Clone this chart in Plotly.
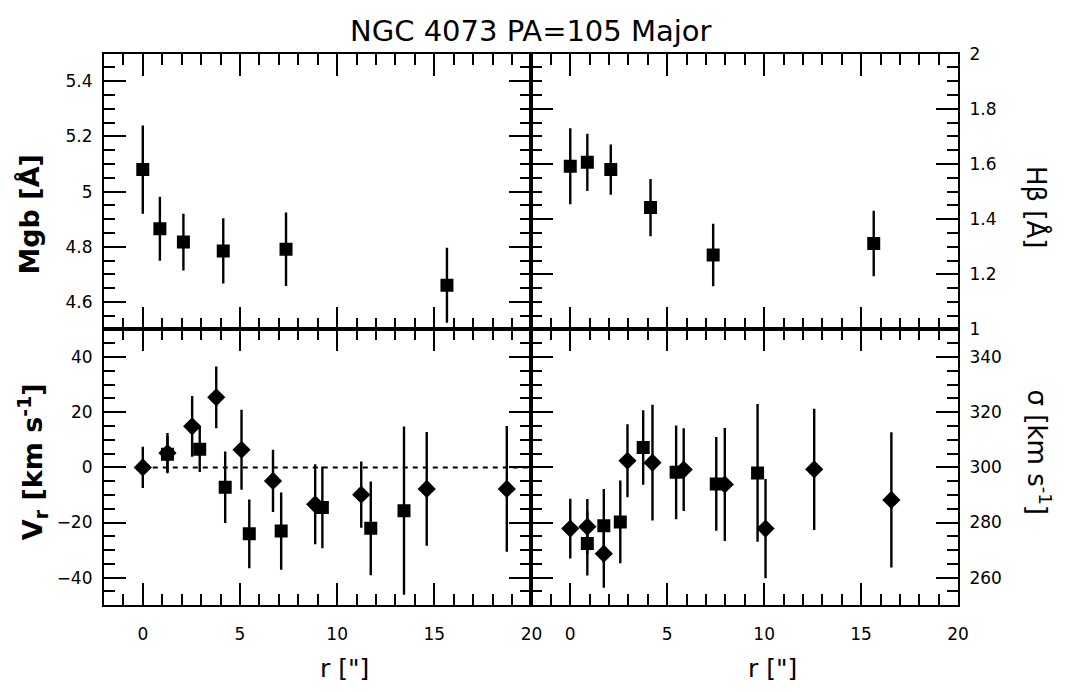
import plotly.graph_objects as go

# Line-strength indices along the major axis
r_index = [0.0, 0.88, 2.09, 4.14, 7.37, 15.65]
mgb = [5.08, 4.865, 4.817, 4.785, 4.791, 4.66]
mgb_err = [0.16, 0.116, 0.103, 0.118, 0.133, 0.136]
hbeta = [1.592, 1.606, 1.58, 1.442, 1.27, 1.312]
hbeta_err = [0.138, 0.104, 0.091, 0.104, 0.113, 0.119]

# Rotation velocity, two sides of the galaxy (diamonds / squares)
r_vel_d = [0.0, 1.27, 2.54, 3.78, 5.08, 6.70, 8.87, 11.24, 14.61, 18.73]
vr_d = [0.0, 5.2, 14.9, 25.4, 6.4, -4.9, -13.4, -9.9, -7.8, -7.8]
vr_d_err = [7.5, 7.3, 11.0, 11.2, 14.5, 11.3, 14.5, 12.0, 20.6, 22.8]
r_vel_s = [1.27, 2.93, 4.24, 5.48, 7.12, 9.24, 11.73, 13.44]
vr_s = [4.8, 6.6, -7.2, -24.1, -23.1, -14.5, -22.1, -15.7]
vr_s_err = [6.5, 8.3, 13.0, 12.5, 14.0, 14.8, 17.0, 30.5]

# Velocity dispersion, two sides
r_sig_d = [0.0, 0.88, 1.73, 2.95, 4.24, 5.85, 7.97, 10.07, 12.58, 16.56]
sig_d = [277.8, 278.5, 268.7, 302.4, 301.7, 299.2, 293.8, 277.8, 299.3, 288.2]
sig_d_err = [10.8, 10.0, 12.3, 13.2, 21.0, 15.0, 20.5, 18.0, 22.0, 24.5]
r_sig_s = [0.88, 1.73, 2.58, 3.76, 5.46, 7.53, 9.66]
sig_s = [272.4, 278.8, 280.2, 307.2, 298.2, 294.0, 298.0]
sig_s_err = [11.6, 13.4, 15.0, 13.5, 17.0, 17.0, 25.0]

# Axis ranges
r_range = [-2, 20]
mgb_range = [4.5, 5.5]
hb_range = [1.0, 2.0]
vr_range = [-50, 50]
sig_range = [250, 350]

W, H = 1072, 692
XL = [105 / W, 537 / W]
XR = [537 / W, 968 / W]
YB = [1 - 613 / H, 1 - 329 / H]
YT = [1 - 329 / H, 1 - 45 / H]

FONT = "DejaVu Sans"


def points(x, y, err, symbol, size, xa, ya):
    return go.Scatter(
        x=x, y=y, mode="markers", xaxis=xa, yaxis=ya,
        marker=dict(symbol=symbol, size=size, color="black", line=dict(width=0)),
        error_y=dict(type="data", array=err, thickness=2.4, width=0, color="black"),
        showlegend=False, hoverinfo="skip",
    )


fig = go.Figure()
fig.add_trace(points(r_index, mgb, mgb_err, "square", 13, "x3", "y3"))
fig.add_trace(points(r_index, hbeta, hbeta_err, "square", 13, "x4", "y4"))
fig.add_trace(go.Scatter(x=[0, 20], y=[0, 0], mode="lines", xaxis="x", yaxis="y",
                         line=dict(color="black", width=2, dash="5px,5px"),
                         showlegend=False, hoverinfo="skip"))
fig.add_trace(points(r_vel_s, vr_s, vr_s_err, "square", 13, "x", "y"))
fig.add_trace(points(r_vel_d, vr_d, vr_d_err, "diamond", 14, "x", "y"))
fig.add_trace(points(r_sig_s, sig_s, sig_s_err, "square", 13, "x2", "y2"))
fig.add_trace(points(r_sig_d, sig_d, sig_d_err, "diamond", 14, "x2", "y2"))


def axis(domain, anchor, rng, dtick, minor_dtick, show_labels=True,
         side=None, standoff=6):
    d = dict(
        domain=domain, anchor=anchor, range=rng,
        tickmode="linear", tick0=0, dtick=dtick,
        showticklabels=show_labels,
        ticks="inside", ticklen=22, tickwidth=2, tickcolor="black",
        showline=True, linewidth=2, linecolor="black", mirror="allticks",
        showgrid=False, zeroline=False,
        tickfont=dict(family=FONT, size=17, color="black"),
        ticklabelstandoff=standoff,
        minor=dict(ticks="inside", ticklen=11, tickwidth=2, tickcolor="black",
                   dtick=minor_dtick, tick0=0, showgrid=False),
        fixedrange=True,
    )
    if side:
        d["side"] = side
    return d


fig.update_layout(
    width=W, height=H, margin=dict(l=0, r=0, t=0, b=0),
    paper_bgcolor="white", plot_bgcolor="white",
    xaxis=axis(XL, "y", r_range, 5, 1, standoff=12),
    yaxis=axis(YB, "x", vr_range, 20, 5),
    xaxis2=axis(XR, "y2", r_range, 5, 1, standoff=12),
    yaxis2=axis(YB, "x2", sig_range, 20, 5, side="right"),
    xaxis3=axis(XL, "y3", r_range, 5, 1, show_labels=False),
    yaxis3=axis(YT, "x3", [mgb_range[0], mgb_range[1] + 1e-9], 0.2, 0.05),
    xaxis4=axis(XR, "y4", r_range, 5, 1, show_labels=False),
    yaxis4=axis(YT, "x4", [hb_range[0] - 1e-9, hb_range[1] + 1e-9], 0.2, 0.05,
                side="right"),
)


def label(text, x, y, size, angle=0, bold=False):
    if bold:
        text = "<b>" + text + "</b>"
    fig.add_annotation(text=text, x=x / W, y=1 - y / H, xref="paper", yref="paper",
                       xanchor="center", yanchor="middle", showarrow=False,
                       textangle=angle,
                       font=dict(family=FONT, size=size, color="black"))


label("NGC 4073 PA=105 Major", 536, 22, 29)
label("Mgb [Å]", 30, 210, 27, angle=-90, bold=True)
label("V<sub>r</sub> [km s<sup>-1</sup>]", 33, 465, 27, angle=-90, bold=True)
label("Hβ [Å]", 1048, 203, 26, angle=90)
label("σ [km s<sup>-1</sup>]", 1050, 455, 26, angle=90)
label('r ["]', 348, 678, 25)
label('r ["]', 781, 678, 25)

fig.write_html("out.html")
